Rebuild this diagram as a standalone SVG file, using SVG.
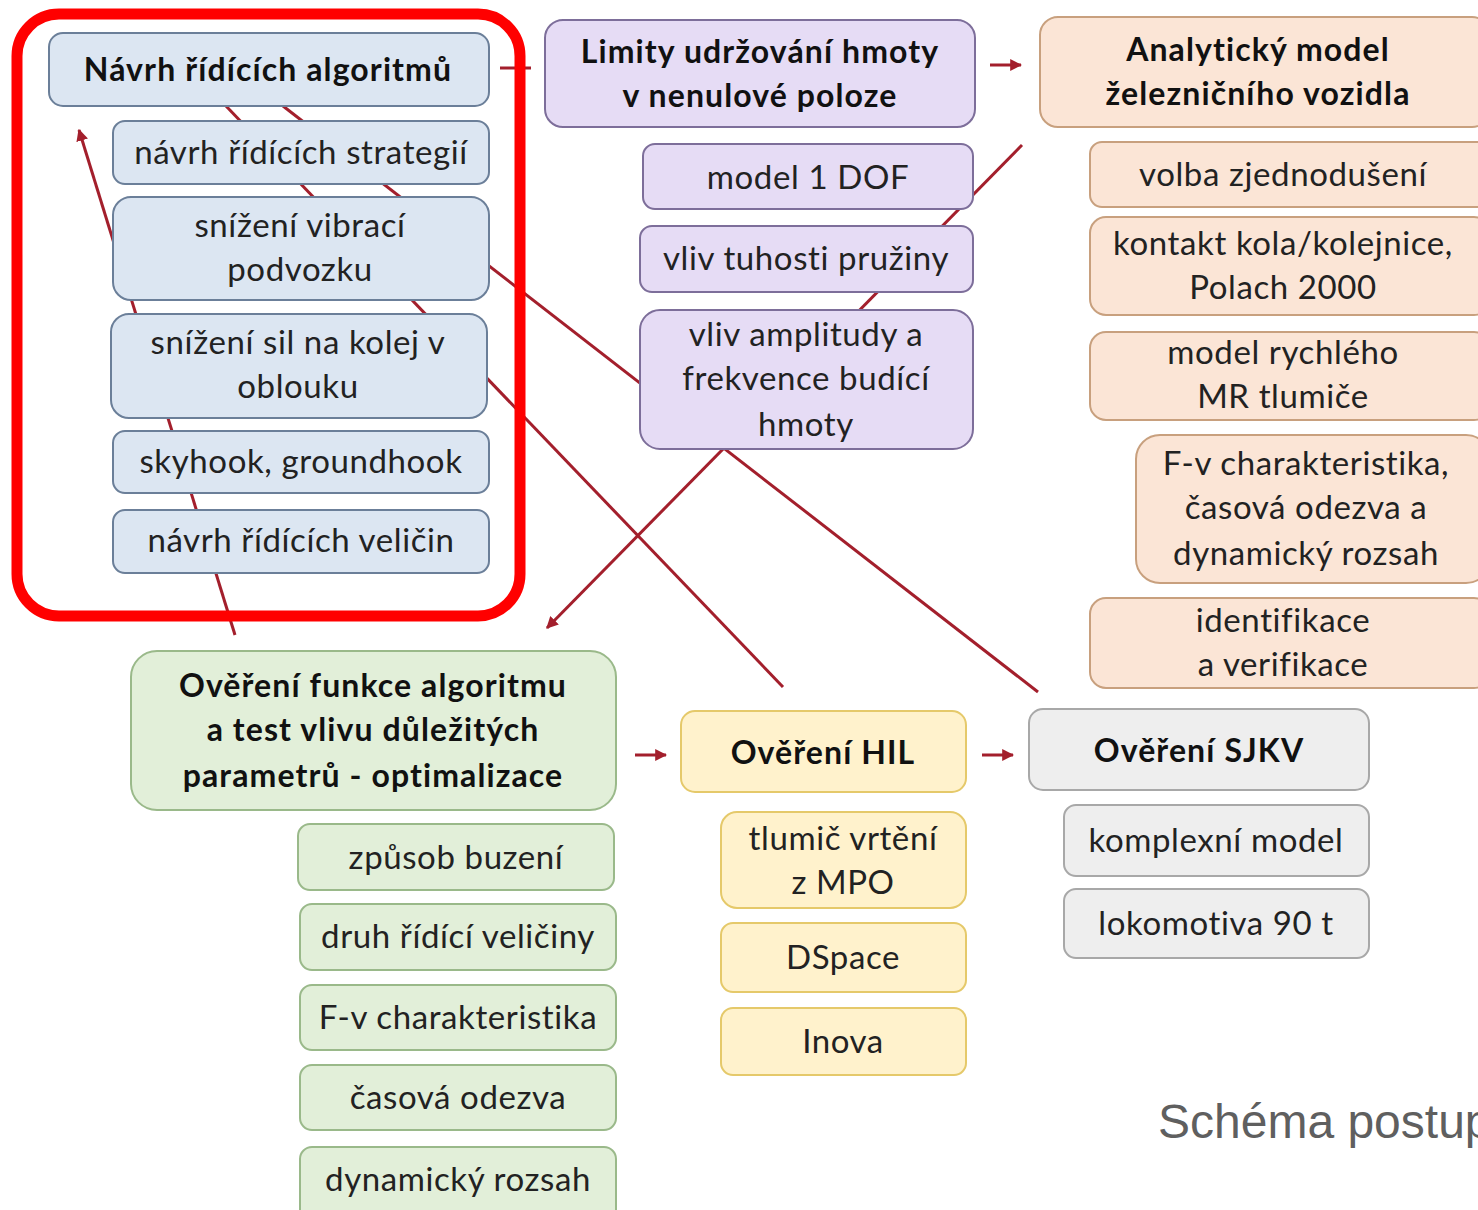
<svg xmlns="http://www.w3.org/2000/svg" width="1478" height="1210" viewBox="0 0 1478 1210">
  <style>
    text { font-family: Lato, "Open Sans", "Liberation Sans", sans-serif; fill: #222; text-anchor: middle; }
    .t { font-size: 33px; letter-spacing: 0.6px; }
    .h { font-size: 32px; font-weight: bold; fill: #111; letter-spacing: 1.1px; }
    .box { stroke-width: 2; }
    .blue { fill: #dce6f2; stroke: #6b7f99; }
    .purple { fill: #e6dcf5; stroke: #7d6e9a; }
    .peach { fill: #fbe5d6; stroke: #c8a07e; }
    .green { fill: #e2efd9; stroke: #9ab98a; }
    .yellow { fill: #fff2cc; stroke: #e5c96a; }
    .gray { fill: #eeeeee; stroke: #a8a8a8; }
    .link { stroke: #a31f2c; stroke-width: 3; fill: none; }
    .caption { font-family: "Liberation Sans", Arial, sans-serif; font-size: 48px; fill: #5f5f5f; text-anchor: start; letter-spacing: 0; }
  </style>
  <defs>
    <marker id="head" viewBox="0 0 10 10" refX="9" refY="5" markerWidth="4" markerHeight="4" orient="auto" markerUnits="strokeWidth">
      <path d="M0,0 L10,5 L0,10 z" fill="#a31f2c"/>
    </marker>
  </defs>

  <rect width="1478" height="1210" fill="#ffffff"/>

  <!-- connectors (drawn under the boxes) -->
  <g id="connectors">
    <line class="link" x1="226" y1="106" x2="783" y2="687"/>
    <line class="link" x1="283" y1="106" x2="1038" y2="692"/>
    <line class="link" x1="1022" y1="145" x2="547" y2="628" marker-end="url(#head)"/>
    <line class="link" x1="235" y1="635" x2="79" y2="130" marker-end="url(#head)"/>
    <line class="link" x1="500" y1="68" x2="531" y2="68"/>
    <line class="link" x1="990" y1="65" x2="1021" y2="65" marker-end="url(#head)"/>
    <line class="link" x1="635" y1="755" x2="666" y2="755" marker-end="url(#head)"/>
    <line class="link" x1="982" y1="755" x2="1013" y2="755" marker-end="url(#head)"/>
  </g>

  <!-- control algorithm design -->
  <g id="n-navrh-algoritmu">
    <rect class="box blue" x="49" y="33" width="440" height="73" rx="14"/>
    <text class="h" x="268" y="81">Návrh řídících algoritmů</text>
  </g>
  <g id="n-strategie">
    <rect class="box blue" x="113" y="121" width="376" height="63" rx="12"/>
    <text class="t" x="301" y="164">návrh řídících strategií</text>
  </g>
  <g id="n-vibrace">
    <rect class="box blue" x="113" y="197" width="376" height="103" rx="18"/>
    <text class="t" x="300" y="237">snížení vibrací</text>
    <text class="t" x="300" y="281">podvozku</text>
  </g>
  <g id="n-sily">
    <rect class="box blue" x="111" y="314" width="376" height="104" rx="18"/>
    <text class="t" x="298" y="354">snížení sil na kolej v</text>
    <text class="t" x="298" y="398">oblouku</text>
  </g>
  <g id="n-skyhook">
    <rect class="box blue" x="113" y="431" width="376" height="62" rx="12"/>
    <text class="t" x="301" y="473">skyhook, groundhook</text>
  </g>
  <g id="n-veliciny">
    <rect class="box blue" x="113" y="510" width="376" height="63" rx="12"/>
    <text class="t" x="301" y="552">návrh řídících veličin</text>
  </g>

  <!-- mass limits -->
  <g id="n-limity">
    <rect class="box purple" x="545" y="20" width="430" height="107" rx="18"/>
    <text class="h" x="760" y="63">Limity udržování hmoty</text>
    <text class="h" x="760" y="107">v nenulové poloze</text>
  </g>
  <g id="n-dof">
    <rect class="box purple" x="643" y="144" width="330" height="65" rx="12"/>
    <text class="t" x="808" y="189">model 1 DOF</text>
  </g>
  <g id="n-tuhost">
    <rect class="box purple" x="640" y="226" width="333" height="66" rx="12"/>
    <text class="t" x="806" y="270">vliv tuhosti pružiny</text>
  </g>
  <g id="n-amplituda">
    <rect class="box purple" x="640" y="310" width="333" height="139" rx="20"/>
    <text class="t" x="806" y="346">vliv amplitudy a</text>
    <text class="t" x="806" y="390">frekvence budící</text>
    <text class="t" x="806" y="436">hmoty</text>
  </g>

  <!-- vehicle model -->
  <g id="n-analyticky">
    <rect class="box peach" x="1040" y="17" width="450" height="110" rx="18"/>
    <text class="h" x="1258" y="61">Analytický model</text>
    <text class="h" x="1258" y="105">železničního vozidla</text>
  </g>
  <g id="n-zjednoduseni">
    <rect class="box peach" x="1090" y="142" width="400" height="65" rx="12"/>
    <text class="t" x="1283" y="186">volba zjednodušení</text>
  </g>
  <g id="n-kontakt">
    <rect class="box peach" x="1090" y="217" width="400" height="98" rx="16"/>
    <text class="t" x="1283" y="255">kontakt kola/kolejnice,</text>
    <text class="t" x="1283" y="299">Polach 2000</text>
  </g>
  <g id="n-mr">
    <rect class="box peach" x="1090" y="332" width="400" height="88" rx="16"/>
    <text class="t" x="1283" y="364">model rychlého</text>
    <text class="t" x="1283" y="408">MR tlumiče</text>
  </g>
  <g id="n-fv-peach">
    <rect class="box peach" x="1136" y="435" width="354" height="148" rx="24"/>
    <text class="t" x="1306" y="475">F-v charakteristika,</text>
    <text class="t" x="1306" y="519">časová odezva a</text>
    <text class="t" x="1306" y="565">dynamický rozsah</text>
  </g>
  <g id="n-identifikace">
    <rect class="box peach" x="1090" y="598" width="400" height="90" rx="16"/>
    <text class="t" x="1283" y="632">identifikace</text>
    <text class="t" x="1283" y="676">a verifikace</text>
  </g>

  <!-- algorithm verification -->
  <g id="n-overeni-funkce">
    <rect class="box green" x="131" y="651" width="485" height="159" rx="26"/>
    <text class="h" x="373" y="697">Ověření funkce algoritmu</text>
    <text class="h" x="373" y="741">a test vlivu důležitých</text>
    <text class="h" x="373" y="787">parametrů - optimalizace</text>
  </g>
  <g id="n-buzeni">
    <rect class="box green" x="298" y="824" width="316" height="66" rx="12"/>
    <text class="t" x="456" y="869">způsob buzení</text>
  </g>
  <g id="n-druh">
    <rect class="box green" x="300" y="904" width="316" height="66" rx="12"/>
    <text class="t" x="458" y="948">druh řídící veličiny</text>
  </g>
  <g id="n-fv-green">
    <rect class="box green" x="300" y="985" width="316" height="65" rx="12"/>
    <text class="t" x="458" y="1029">F-v charakteristika</text>
  </g>
  <g id="n-odezva">
    <rect class="box green" x="300" y="1065" width="316" height="65" rx="12"/>
    <text class="t" x="458" y="1109">časová odezva</text>
  </g>
  <g id="n-rozsah">
    <rect class="box green" x="300" y="1147" width="316" height="80" rx="12"/>
    <text class="t" x="458" y="1191">dynamický rozsah</text>
  </g>

  <!-- HIL verification -->
  <g id="n-hil">
    <rect class="box yellow" x="681" y="711" width="285" height="81" rx="14"/>
    <text class="h" x="823" y="764">Ověření HIL</text>
  </g>
  <g id="n-tlumic">
    <rect class="box yellow" x="721" y="812" width="245" height="96" rx="16"/>
    <text class="t" x="843" y="850">tlumič vrtění</text>
    <text class="t" x="843" y="894">z MPO</text>
  </g>
  <g id="n-dspace">
    <rect class="box yellow" x="721" y="923" width="245" height="69" rx="12"/>
    <text class="t" x="843" y="969">DSpace</text>
  </g>
  <g id="n-inova">
    <rect class="box yellow" x="721" y="1008" width="245" height="67" rx="12"/>
    <text class="t" x="843" y="1053">Inova</text>
  </g>

  <!-- SJKV verification -->
  <g id="n-sjkv">
    <rect class="box gray" x="1029" y="709" width="340" height="81" rx="14"/>
    <text class="h" x="1199" y="762">Ověření SJKV</text>
  </g>
  <g id="n-komplexni">
    <rect class="box gray" x="1064" y="805" width="305" height="71" rx="12"/>
    <text class="t" x="1216" y="852">komplexní model</text>
  </g>
  <g id="n-lokomotiva">
    <rect class="box gray" x="1064" y="889" width="305" height="69" rx="12"/>
    <text class="t" x="1216" y="935">lokomotiva 90 t</text>
  </g>

  <!-- highlight frame around the algorithm block -->
  <rect x="17" y="14" width="503" height="602" rx="42" fill="none" stroke="#ff0000" stroke-width="11"/>

  <text class="caption" x="1158" y="1138">Schéma postup</text>
</svg>
